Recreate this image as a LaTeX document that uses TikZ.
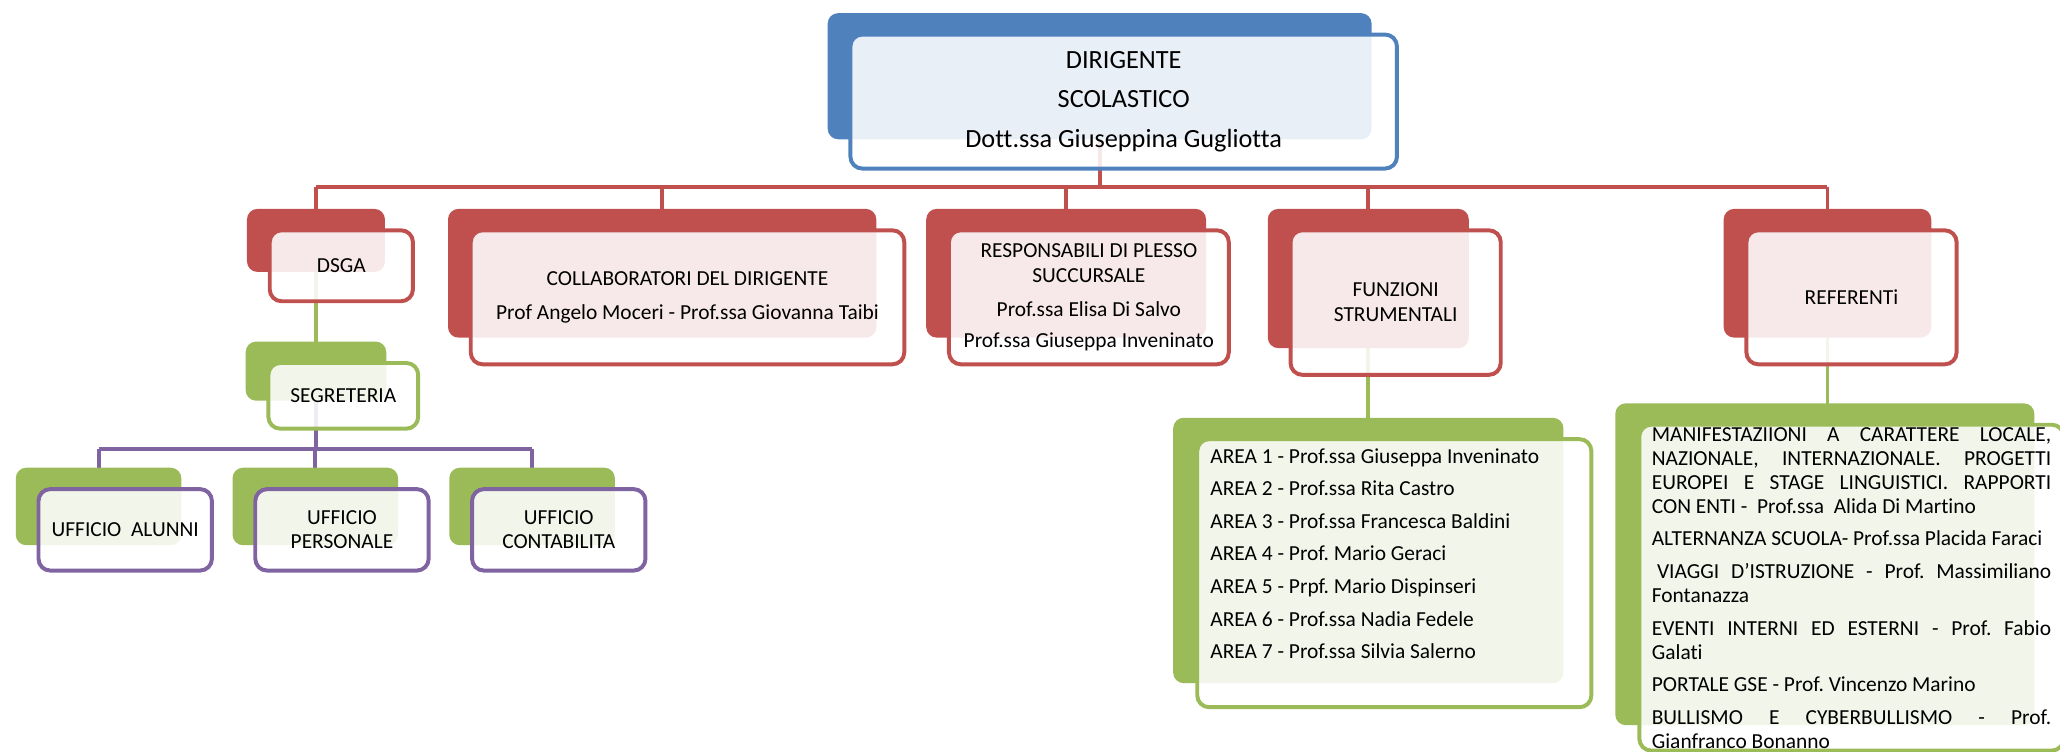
\documentclass[tikz,border=0pt]{standalone}
\usepackage{fontspec}
\setmainfont{Carlito}[Ligatures={TeX,NoCommon}]
\usepackage{tikz}
\usetikzlibrary{positioning,backgrounds}
\frenchspacing
\definecolor{bluec}{HTML}{4F81BD}
\definecolor{redc}{HTML}{C0504D}
\definecolor{greenc}{HTML}{9BBB59}
\definecolor{purplec}{HTML}{8064A2}
\tikzset{
	backbox/.style={fill=#1, rounded corners=8pt, inner sep=0pt},
	frontbox/.style={draw=#1, line width=3pt, fill=white, fill opacity=0.88,
			text opacity=1, rounded corners=9pt, inner sep=0pt, align=center,
			font=\fontsize{16.3}{19}\selectfont},
	linkline/.style={draw=#1, line width=3pt}
}

\begin{document}
\begin{tikzpicture}[x=1pt,y=-1pt]
        \useasboundingbox (0,0) rectangle (1568,572);
        \clip (0,0) rectangle (1568,572);

        % Dirigente scolastico
        \node[backbox=bluec, minimum width=414pt, minimum height=96pt] (dirB) at (837,58) {};
        \node[frontbox=bluec, minimum width=416pt, minimum height=102pt, below right=15pt and 16pt of dirB.north west, font=\fontsize{20}{30}\selectfont] (dir) {DIRIGENTE\\SCOLASTICO\\Dott.ssa Giuseppina Gugliotta};

        % Secondo livello
        \node[backbox=redc, minimum width=105pt, minimum height=48pt] (dsgaB) at (240.5,183) {};
        \node[frontbox=redc, minimum width=109pt, minimum height=54pt, below right=15pt and 16pt of dsgaB.north west] (dsga) {DSGA};

        \node[backbox=redc, minimum width=326pt, minimum height=98pt] (colB) at (504,208) {};
        \node[frontbox=redc, minimum width=330pt, minimum height=102pt, below right=15pt and 16pt of colB.north west] (col) {COLLABORATORI DEL DIRIGENTE\\[7pt]Prof Angelo Moceri - Prof.ssa Giovanna Taibi};

        \node[backbox=redc, minimum width=213pt, minimum height=98pt] (respB) at (811.5,208) {};
        \node[frontbox=redc, minimum width=213pt, minimum height=102pt, below right=15pt and 16pt of respB.north west] (resp) {RESPONSABILI DI PLESSO\\SUCCURSALE\\[7pt]Prof.ssa Elisa Di Salvo\\[5pt]Prof.ssa Giuseppa Inveninato};

        \node[backbox=redc, minimum width=153pt, minimum height=106pt] (funzB) at (1041.5,212) {};
        \node[frontbox=redc, minimum width=160pt, minimum height=110pt, below right=15pt and 16pt of funzB.north west] (funz) {FUNZIONI\\STRUMENTALI};

        \node[backbox=redc, minimum width=158pt, minimum height=98pt] (refB) at (1391,208) {};
        \node[frontbox=redc, minimum width=160pt, minimum height=102pt, below right=15pt and 16pt of refB.north west] (ref) {REFERENTi};

        % Segreteria e uffici
        \node[backbox=greenc, minimum width=107pt, minimum height=45pt] (segB) at (240.5,282.5) {};
        \node[frontbox=greenc, minimum width=114pt, minimum height=50pt, below right=15pt and 16pt of segB.north west] (seg) {SEGRETERIA};

        \node[backbox=greenc, minimum width=126pt, minimum height=59pt] (alunB) at (75,385.5) {};
        \node[frontbox=purplec, minimum width=132pt, minimum height=62pt, below right=15pt and 16pt of alunB.north west] (alun) {UFFICIO\ \ ALUNNI};

        \node[backbox=greenc, minimum width=126pt, minimum height=59pt] (persB) at (240,385.5) {};
        \node[frontbox=purplec, minimum width=132pt, minimum height=62pt, below right=15pt and 16pt of persB.north west] (pers) {UFFICIO\\[-1pt]PERSONALE};

        \node[backbox=greenc, minimum width=126pt, minimum height=59pt] (contB) at (405,385.5) {};
        \node[frontbox=purplec, minimum width=132pt, minimum height=62pt, below right=15pt and 16pt of contB.north west] (cont) {UFFICIO\\[-1pt]CONTABILITA};

        % Aree funzioni strumentali
        \node[backbox=greenc, minimum width=297pt, minimum height=202pt] (areaB) at (1041.5,419) {};
        \node[frontbox=greenc, minimum width=300pt, minimum height=204pt, below right=15pt and 17pt of areaB.north west, align=left] (area) {\parbox[t][190pt][t]{280pt}{\fontsize{16.3}{24.8}\selectfont
                AREA 1 - Prof.ssa Giuseppa Inveninato\\
                AREA 2 - Prof.ssa Rita Castro\\
                AREA 3 - Prof.ssa Francesca Baldini\\
                AREA 4 - Prof. Mario Geraci\\
                AREA 5 - Prpf. Mario Dispinseri\\
                AREA 6 - Prof.ssa Nadia Fedele\\
                AREA 7 - Prof.ssa Silvia Salerno}};

        % Elenco referenti
        \node[backbox=greenc, minimum width=319pt, minimum height=245pt] (listB) at (1389,429.5) {};
        \node[frontbox=greenc, minimum width=323pt, minimum height=248pt, below right=15pt and 17pt of listB.north west, align=left] (list) {\parbox[t][244pt][t]{304pt}{\fontsize{16.3}{18.3}\selectfont
                \makebox[304pt][s]{MANIFESTAZIIONI A CARATTERE LOCALE,}\\
                \makebox[304pt][s]{NAZIONALE, INTERNAZIONALE. PROGETTI}\\
                \makebox[304pt][s]{EUROPEI E STAGE LINGUISTICI. RAPPORTI}\\
                CON ENTI -\ \ Prof.ssa\ \ Alida Di Martino\\[6.5pt]
                ALTERNANZA SCUOLA- Prof.ssa Placida Faraci\\[6.5pt]
                \makebox[304pt][s]{\hspace*{4pt}VIAGGI D'ISTRUZIONE - Prof. Massimiliano}\\
                Fontanazza\\[6.5pt]
                \makebox[304pt][s]{EVENTI INTERNI ED ESTERNI - Prof. Fabio}\\
                Galati\\[6.5pt]
                PORTALE GSE - Prof. Vincenzo Marino\\[6.5pt]
                \makebox[304pt][s]{BULLISMO E CYBERBULLISMO - Prof.}\\
                Gianfranco Bonanno}};

        % Linee di collegamento
        \begin{scope}[on background layer]
                \coordinate (redbus) at (837,142);
                \coordinate (violetbus) at (240,342);
                \draw[linkline=redc] (dirB.center) -- (redbus);
                \draw[linkline=redc] (dsgaB.center |- redbus) -- (refB.center |- redbus);
                \foreach \n in {dsgaB,colB,respB,funzB,refB}
                        \draw[linkline=redc] (\n.center |- redbus) -- (\n.center);
                \draw[linkline=greenc] (dsgaB.center) -- (segB.center);
                \draw[linkline=greenc] (funzB.center) -- (funzB.center |- areaB.center);
                \draw[linkline=greenc] (refB.center) -- (refB.center |- listB.center);
                \draw[linkline=purplec] (segB.center) -- (segB.center |- violetbus);
                \draw[linkline=purplec] (alunB.center |- violetbus) -- (contB.center |- violetbus);
                \foreach \n in {alunB,persB,contB}
                        \draw[linkline=purplec] (\n.center |- violetbus) -- (\n.center);
        \end{scope}
\end{tikzpicture}
\end{document}
